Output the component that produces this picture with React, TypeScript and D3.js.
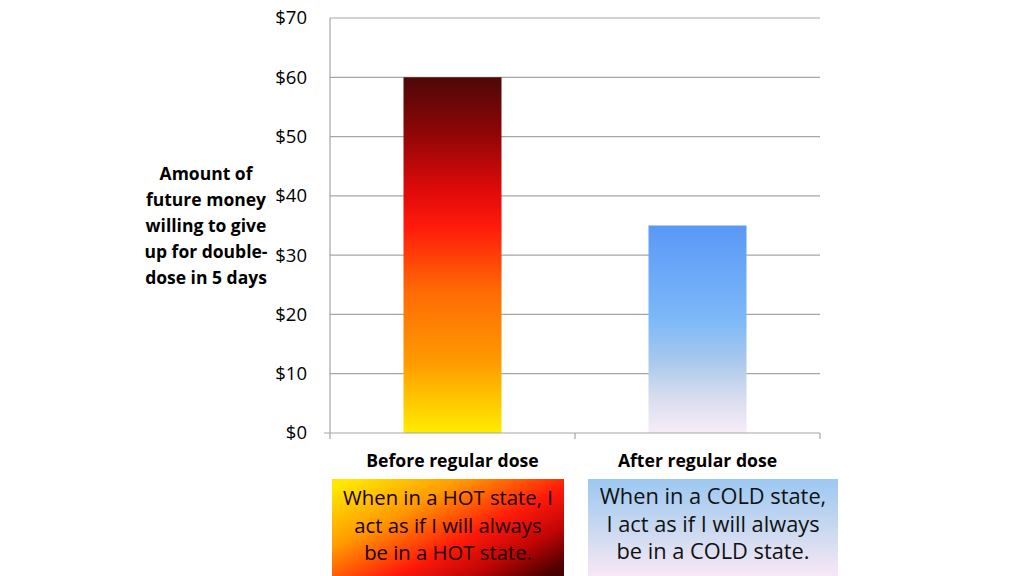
import React from "react";
import * as d3 from "d3";

const categories = ["Before regular dose", "After regular dose"];
const values = [60, 35];
const yTicks = [0, 10, 20, 30, 40, 50, 60, 70];
const yTitleLines = ["Amount of", "future money", "willing to give", "up for double-", "dose in 5 days"];
const hotLines = ["When in a HOT state, I", "act as if I will always", "be in a HOT state."];
const coldLines = ["When in a COLD state,", "I act as if I will always", "be in a COLD state."];

const W = 1024;
const H = 576;
const FONT = "'Open Sans', Lato, sans-serif";

export default function App() {
  const left = 330, right = 820, top = 18, bottom = 433;
  const x = d3.scaleBand<string>().domain(categories).range([left, right]).paddingInner(0.6).paddingOuter(0.3);
  const y = d3.scaleLinear().domain([0, 70]).range([bottom, top]);
  const step = x.step();

  return (
    <div style={{ position: "fixed", left: 0, top: 0, width: W, height: H, background: "#fff" }}>
      <svg width={W} height={H} style={{ display: "block" }} fontFamily={FONT}>
        <defs>
          <linearGradient id="hotBar" x1="0" y1="0" x2="0" y2="1">
            <stop offset="0" stopColor="#4d0808" />
            <stop offset="0.15" stopColor="#8c0606" />
            <stop offset="0.32" stopColor="#e00a0a" />
            <stop offset="0.42" stopColor="#ff1a0a" />
            <stop offset="0.6" stopColor="#ff6a05" />
            <stop offset="0.8" stopColor="#ff9a00" />
            <stop offset="1" stopColor="#ffec00" />
          </linearGradient>
          <linearGradient id="coldBar" x1="0" y1="0" x2="0" y2="1">
            <stop offset="0" stopColor="#5a98f8" />
            <stop offset="0.45" stopColor="#7cb8f8" />
            <stop offset="0.65" stopColor="#a8c8ec" />
            <stop offset="0.82" stopColor="#d6dcee" />
            <stop offset="1" stopColor="#f8ecf8" />
          </linearGradient>
          <linearGradient id="hotBox" x1="0" y1="0.1" x2="1" y2="0.9">
            <stop offset="0" stopColor="#ffe800" />
            <stop offset="0.3" stopColor="#ff9a00" />
            <stop offset="0.6" stopColor="#ff1a0a" />
            <stop offset="0.8" stopColor="#c00505" />
            <stop offset="1" stopColor="#4a0000" />
          </linearGradient>
          <linearGradient id="coldBox" x1="0" y1="0" x2="0" y2="1">
            <stop offset="0" stopColor="#9cc8f2" />
            <stop offset="0.5" stopColor="#c8d8f0" />
            <stop offset="1" stopColor="#f8e8f6" />
          </linearGradient>
        </defs>

        {yTicks.filter((t) => t > 0).map((t) => (
          <line key={t} x1={left} x2={right} y1={y(t)} y2={y(t)} stroke="#a6a6a6" strokeWidth={1.2} />
        ))}

        {categories.map((c, i) => (
          <rect key={c} x={x(c)} y={y(values[i])} width={x.bandwidth()} height={y(0) - y(values[i])}
            fill={i === 0 ? "url(#hotBar)" : "url(#coldBar)"} />
        ))}

        <line x1={left} x2={left} y1={top} y2={bottom + 6} stroke="#a6a6a6" strokeWidth={1.2} />
        <line x1={left - 6} x2={right} y1={bottom} y2={bottom} stroke="#a6a6a6" strokeWidth={1.2} />
        {categories.map((c, i) => {
          const xx = left + step * (i + 1);
          return <line key={c} x1={xx} x2={xx} y1={bottom} y2={bottom + 6} stroke="#a6a6a6" strokeWidth={1.2} />;
        })}

        {yTicks.map((t) => (
          <text key={t} x={307} y={y(t)} dy="0.35em" textAnchor="end" fontSize={18.5} fill="#000">
            {d3.format("$")(t)}
          </text>
        ))}

        {yTitleLines.map((l, i) => (
          <text key={l} x={206} y={180 + i * 26} textAnchor="middle" fontSize={17.5} fontWeight="bold" fill="#000">
            {l}
          </text>
        ))}

        {categories.map((c) => (
          <text key={c} x={(x(c) as number) + x.bandwidth() / 2} y={467} textAnchor="middle" fontSize={17.6} fontWeight="bold" fill="#000">
            {c}
          </text>
        ))}

        <rect x={332} y={479} width={232} height={97} fill="url(#hotBox)" />
        {hotLines.map((l, i) => (
          <text key={l} x={448} y={505 + i * 27.5} textAnchor="middle" fontSize={20.3} fill="#1a0000">
            {l}
          </text>
        ))}

        <rect x={588} y={479} width={250} height={97} fill="url(#coldBox)" />
        {coldLines.map((l, i) => (
          <text key={l} x={713} y={504 + i * 27.5} textAnchor="middle" fontSize={21.8} fill="#111">
            {l}
          </text>
        ))}
      </svg>
    </div>
  );
}
